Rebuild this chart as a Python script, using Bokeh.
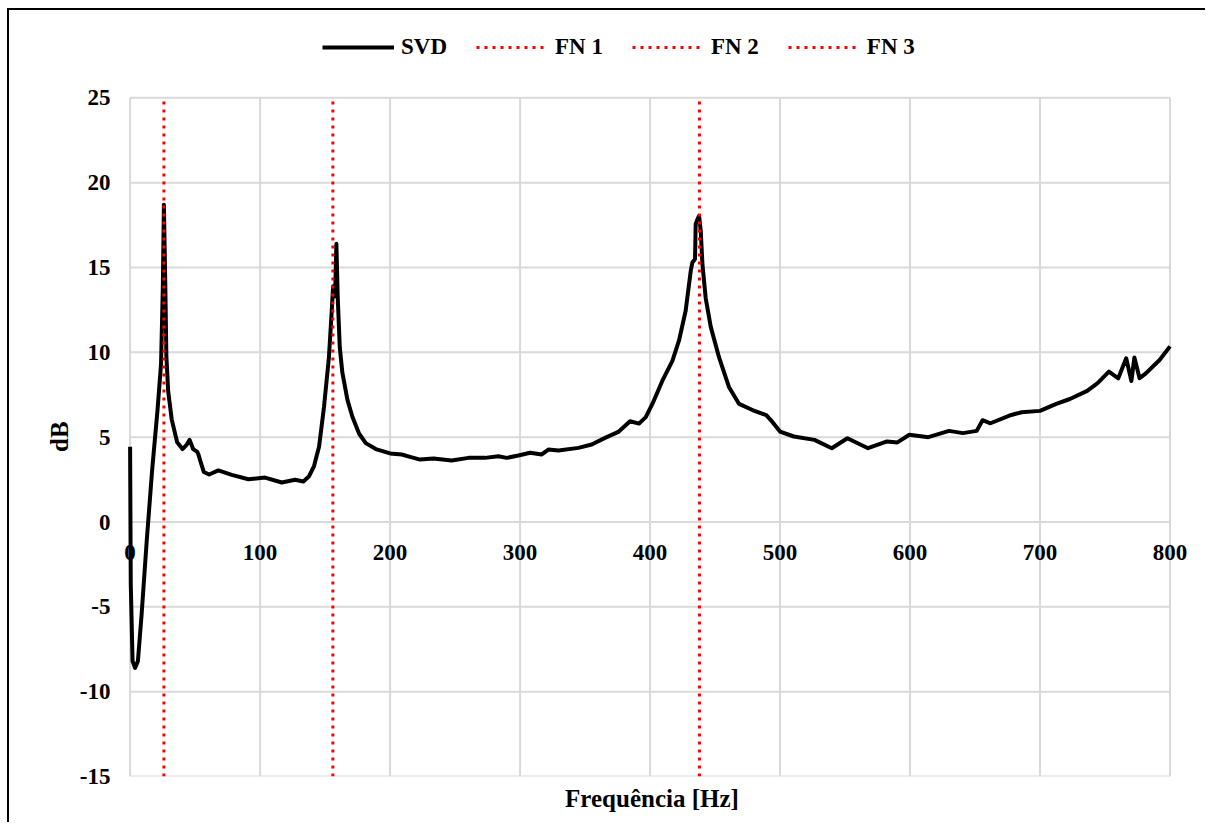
from bokeh.plotting import figure
from bokeh.models import Legend, LegendItem, Range1d, FixedTicker, Title
from bokeh.embed import file_html
from bokeh.resources import INLINE

# ---- data ----
freq = [0, 0.5, 1.9, 3.8, 6, 8.8, 12.9, 17, 21.1, 23.8, 25.2, 26, 27.1, 27.9, 29.3, 32,
        36.2, 40.3, 43.5, 45.8, 48.5, 51.5, 52.5, 54, 56.7, 60.8, 67.9, 78.2, 91, 103.8,
        116.7, 126.9, 133.3, 137.7, 141.5, 145.4, 149.2, 153, 155, 156.2, 157.7, 158.7,
        159.7, 161.3, 163.3, 167.2, 171, 176.2, 181.3, 189, 200, 209, 215.4, 223, 233.3,
        247.4, 260.3, 273, 283.3, 289.7, 298.7, 307.7, 316.7, 321.8, 329.5, 344.9, 355.1,
        365.4, 375.6, 384.6, 391.5, 396.7, 401.8, 409.5, 417.2, 422.3, 427.4, 431.3, 432.6,
        434.6, 435.1, 436.4, 437.7, 439, 440.3, 442.8, 446.7, 453.1, 460.8, 468.5, 478.8,
        489.4, 494.1, 500, 510.6, 526.5, 539.8, 551.8, 567.7, 582.3, 590.3, 599.5, 614.1,
        630, 640.7, 651.3, 655.8, 661.9, 677.9, 685.8, 700, 712.5, 723, 736.3, 744.3, 753,
        760.2, 766.3, 770.3, 772.6, 776.6, 781.4, 792, 800]
svd_db = [4.43, -3.6, -8.2, -8.6, -8.2, -5.5, -1.0, 3.1, 6.6, 9.3, 13.9, 18.7, 13.9, 9.8, 7.7, 6.05,
          4.7, 4.3, 4.55, 4.84, 4.3, 4.15, 4.0, 3.6, 2.95, 2.8, 3.04, 2.78, 2.52, 2.62,
          2.33, 2.49, 2.39, 2.7, 3.3, 4.45, 6.8, 9.75, 12.3, 13.9, 13.3, 16.4,
          13.3, 10.3, 8.8, 7.2, 6.2, 5.2, 4.65, 4.3, 4.04, 3.98, 3.84, 3.68, 3.74,
          3.62, 3.78, 3.78, 3.88, 3.78, 3.92, 4.08, 3.98, 4.27, 4.21, 4.37, 4.57,
          4.96, 5.31, 5.94, 5.8, 6.18, 6.96, 8.33, 9.5, 10.7, 12.45, 14.8, 15.3,
          15.5, 17.55, 17.84, 18.04, 17.15, 15.2, 13.2, 11.5, 9.7, 7.94, 6.96, 6.6,
          6.3, 5.9, 5.33, 5.04, 4.84, 4.35, 4.94, 4.35, 4.75, 4.69, 5.14, 5.0,
          5.37, 5.24, 5.37, 6.0, 5.82, 6.31, 6.47, 6.55, 6.96, 7.25, 7.73, 8.18, 8.86,
          8.47, 9.65, 8.31, 9.7, 8.47, 8.76, 9.55, 10.35]
fn_names = ["FN 1", "FN 2", "FN 3"]
fn_freqs = [26, 156, 438]
x_ticks = [0, 100, 200, 300, 400, 500, 600, 700, 800]
y_ticks = [-15, -10, -5, 0, 5, 10, 15, 20, 25]
y_tick_labels = ["-15", "-10", "-5", "0", "5", "10", "15", "20", "25"]
x_min, x_max = 0, 800
y_min, y_max = -15, 25

# ---- layout (view extends a little beyond the data box so edge labels & legend are not clipped) ----
FONT = "Liberation Serif"
GRID = "#d9d9d9"
PX_PER_X = 1.3
PX_PER_Y = 16.975
view_x = (-12, 815)
view_y = (-15, 29.5)
frame_w = round((view_x[1] - view_x[0]) * PX_PER_X)
frame_h = round((view_y[1] - view_y[0]) * PX_PER_Y)

p = figure(frame_width=frame_w, frame_height=frame_h,
           x_range=Range1d(*view_x), y_range=Range1d(*view_y),
           output_backend="svg", toolbar_location=None,
           min_border_left=105, min_border_top=11, min_border_right=16, min_border_bottom=46)
p.styles = {"border-left": "2px solid black", "border-top": "2px solid black",
            "margin-left": "7px", "margin-top": "8px"}
p.background_fill_color = "white"
p.border_fill_color = "white"
p.outline_line_color = None
p.xgrid.visible = False
p.ygrid.visible = False

# gridlines restricted to the data box
p.segment(x0=x_ticks, y0=[y_min] * len(x_ticks), x1=x_ticks, y1=[y_max] * len(x_ticks),
          line_color=GRID, line_width=2)
p.segment(x0=[x_min] * len(y_ticks), y0=y_ticks, x1=[x_max] * len(y_ticks), y1=y_ticks,
          line_color=GRID, line_width=2)

# x axis crossing at 0 dB (Excel style)
xa = p.xaxis[0]
xa.fixed_location = 0
xa.bounds = (x_min, x_max)
xa.ticker = FixedTicker(ticks=x_ticks)
xa.axis_line_color = None
xa.major_tick_line_color = None
xa.minor_tick_line_color = None
xa.major_tick_out = 0
xa.major_tick_in = 0
xa.major_label_standoff = 23
xa.major_label_text_font = FONT
xa.major_label_text_font_style = "bold"
xa.major_label_text_font_size = "23px"
xa.major_label_text_color = "black"

ya = p.yaxis[0]
ya.ticker = FixedTicker(ticks=y_ticks)
ya.major_label_overrides = {t: s for t, s in zip(y_ticks, y_tick_labels)}
ya.axis_line_color = None
ya.major_tick_line_color = None
ya.minor_tick_line_color = None
ya.major_tick_out = 0
ya.major_tick_in = 0
ya.major_label_standoff = 4
ya.major_label_text_font = FONT
ya.major_label_text_font_style = "bold"
ya.major_label_text_font_size = "23px"
ya.major_label_text_color = "black"

# axis titles, centred on the data box
ytitle_offset = ((y_min + y_max) / 2 - view_y[0]) * PX_PER_Y - 15
ytitle = Title(text="dB", align="left", offset=ytitle_offset, standoff=8, text_font=FONT,
               text_font_style="bold", text_font_size="25px", text_color="black")
p.add_layout(ytitle, "left")
xtitle = Title(text="Frequência [Hz]", align="center", standoff=13,
               text_font=FONT, text_font_style="bold", text_font_size="25px", text_color="black")
p.add_layout(xtitle, "below")

# lines
svd = p.line(freq, svd_db, line_color="black", line_width=4, line_join="round")
items = [LegendItem(label="SVD", renderers=[svd])]
for name, f in zip(fn_names, fn_freqs):
    r = p.line([f, f], [y_min, y_max], line_color="#ff0000", line_width=3, line_dash="3 5")
    items.append(LegendItem(label=name, renderers=[r]))

legend = Legend(items=items, orientation="horizontal", location=(208, frame_h - 39),
                label_text_font=FONT, label_text_font_style="bold", label_text_font_size="23px",
                label_text_color="black", glyph_width=72, label_standoff=7, spacing=29,
                border_line_color=None, background_fill_alpha=0)
p.add_layout(legend, "center")

open("out.html", "w").write(file_html(p, INLINE))
